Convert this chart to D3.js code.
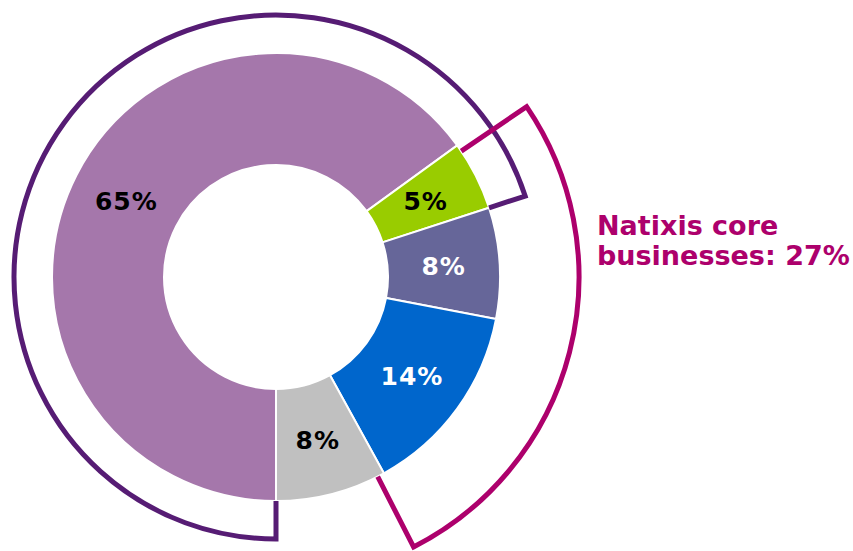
<!DOCTYPE html>
<html>
<head>
<meta charset="utf-8">
<script src="https://cdn.jsdelivr.net/npm/d3@7"></script>
<style>
  html, body { margin: 0; padding: 0; background: #fff; }
  svg { display: block; }
</style>
</head>
<body>
<svg id="chart" width="853" height="551"></svg>
<script>
// ---- data ----
const labels = ["65%", "5%", "8%", "14%", "8%"];
const values = [65, 5, 8, 14, 8];
const sliceColors = ["#A577AB", "#99CC00", "#666699", "#0066CC", "#C0C0C0"];
const labelColors = ["#000000", "#000000", "#FFFFFF", "#FFFFFF", "#000000"];
// brackets: [first slice index, last slice index]
const bracketRanges = [[0, 1], [1, 3]];
const bracketColors = ["#561C74", "#AD006C"];
const annotationLines = ["Natixis core", "businesses: 27%"];

// ---- layout ----
const svg = d3.select("#chart");
const cx = 276, cy = 277;
const rOuter = 224, rInner = 112;
const bracketRadii = [262, 303];
const bracketRotation = [0, 1.8]; // degrees

const g = svg.append("g").attr("transform", `translate(${cx},${cy})`);

const pie = d3.pie().sort(null).value(d => d)
  .startAngle(Math.PI).endAngle(3 * Math.PI);
const arcs = pie(values);

const arcGen = d3.arc().innerRadius(rInner).outerRadius(rOuter);

g.selectAll("path.slice")
  .data(arcs)
  .join("path")
  .attr("class", "slice")
  .attr("d", arcGen)
  .attr("fill", (d, i) => sliceColors[i])
  .attr("stroke", "#fff")
  .attr("stroke-width", 2);

g.selectAll("text.lbl")
  .data(arcs)
  .join("text")
  .attr("class", "lbl")
  .attr("transform", d => `translate(${arcGen.centroid(d)})`)
  .attr("text-anchor", "middle")
  .attr("dy", "0.36em")
  .attr("font-family", "DejaVu Sans, Verdana, sans-serif")
  .attr("font-weight", "bold")
  .attr("font-size", 25)
  .attr("letter-spacing", 1)
  .attr("fill", (d, i) => labelColors[i])
  .text((d, i) => labels[i]);

// brackets
function pt(r, a) { return [r * Math.sin(a), -r * Math.cos(a)]; }
bracketRanges.forEach((rg, k) => {
  const a0 = arcs[rg[0]].startAngle;
  const a1 = arcs[rg[1]].endAngle;
  const R = bracketRadii[k];
  const p = d3.path();
  const s = pt(rOuter, a0);
  p.moveTo(s[0], s[1]);
  const s2 = pt(R, a0);
  p.lineTo(s2[0], s2[1]);
  p.arc(0, 0, R, a0 - Math.PI / 2, a1 - Math.PI / 2, false);
  const e = pt(rOuter, a1);
  p.lineTo(e[0], e[1]);
  g.append("path")
    .attr("d", p.toString())
    .attr("transform", `rotate(${bracketRotation[k]})`)
    .attr("fill", "none")
    .attr("stroke", bracketColors[k])
    .attr("stroke-width", 5)
    .attr("stroke-linejoin", "miter");
});

// annotation
const ann = svg.append("text")
  .attr("x", 597)
  .attr("y", 235)
  .attr("font-family", "DejaVu Sans, Verdana, sans-serif")
  .attr("font-weight", "bold")
  .attr("font-size", 27)
  .attr("fill", bracketColors[1]);
ann.selectAll("tspan")
  .data(annotationLines)
  .join("tspan")
  .attr("x", 597)
  .attr("dy", (d, i) => i === 0 ? 0 : 30)
  .text(d => d);
</script>
</body>
</html>
